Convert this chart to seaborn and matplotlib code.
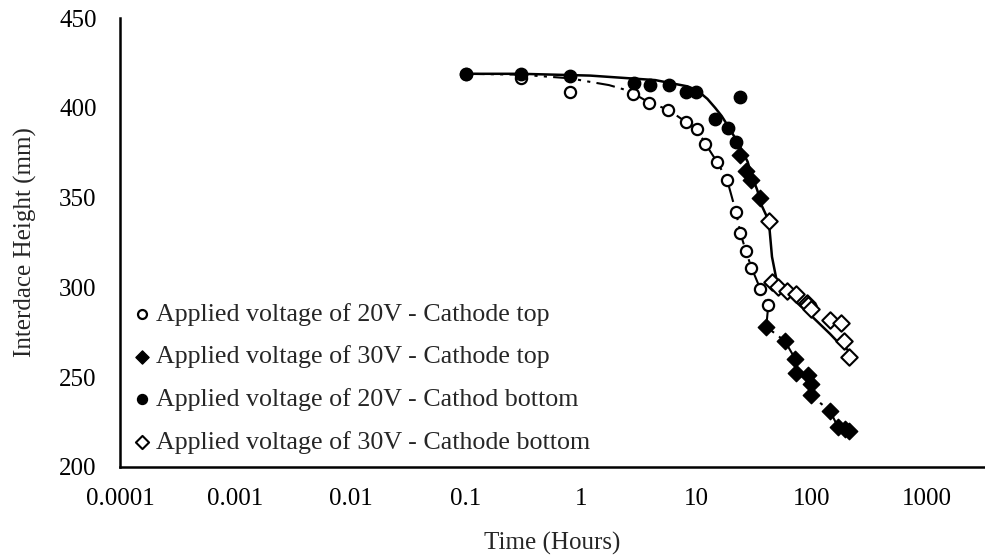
import numpy as np
import pandas as pd
import matplotlib
matplotlib.use("Agg")
import matplotlib.pyplot as plt
from matplotlib.ticker import FixedLocator, LogLocator, NullFormatter, MultipleLocator
import seaborn as sns

# Data (time in hours, height in mm)
t_20v_top = [0.1, 0.3, 0.8, 2.8, 3.9, 5.7, 8.2, 10.2, 12, 15.1, 18.5, 22.1, 24.2, 27, 30.1, 36, 42]
h_20v_top = [419, 416.5, 409, 408, 403, 399, 392, 388, 380, 370, 360, 342, 330, 320, 311, 299, 290]

t_30v_top = [24.2, 27.0, 29.8, 36.0, 40.5, 58.8, 72.3, 73.3, 93.1, 99.6, 98, 145, 170, 196, 210]
h_30v_top = [374, 365, 360, 350, 278, 270, 260, 252, 251, 246, 240, 231, 222, 221, 220]

t_20v_bot = [0.1, 0.3, 0.8, 2.9, 4.0, 5.8, 8.2, 10.0, 14.6, 18.8, 22.2, 24.2]
h_20v_bot = [419, 419, 418, 414, 413, 413, 409, 409, 394, 389, 381, 406]

t_30v_bot = [42.6, 45.4, 51.1, 61.4, 73.3, 91.2, 93, 99.6, 145, 182, 190, 210]
h_30v_bot = [337, 303, 300, 298, 296, 291, 290, 288, 282, 280, 270, 261]

# Curves drawn through the points
t_curve_top = [0.1, 0.3, 0.8, 1.2, 1.75, 2.3, 2.8, 3.9, 5.7, 8.2, 10.2, 12, 15.1, 18.5, 22.1,
               24.2, 27, 30.1, 36, 42, 40.5, 58.8, 72.3, 73.3, 93.1, 99.6, 98, 145, 170, 196, 210]
h_curve_top = [419, 418.5, 416.5, 414.5, 412.7, 410.5, 408.3, 403, 399, 392, 388, 380, 370, 360, 342,
               330, 320, 311, 299, 289, 278, 270, 260, 252, 251, 246, 240, 231, 222, 221, 220]

t_curve_bot = [0.1, 0.3, 1.2, 4.4, 8.4, 10, 11, 12.5, 14.6, 16.6, 18.8, 22.8, 27.9, 30, 33.9, 36.7,
               42.6, 45.4, 49.4, 54, 61, 73, 100, 145, 172, 207]
h_curve_bot = [419, 419, 418, 415.5, 412, 410, 408, 405, 400, 395.5, 390, 381, 370, 363, 354, 346,
               337, 317, 305, 300, 297, 292, 284, 274, 269, 265]

sns.set_style("white")
plt.rcParams["font.family"] = ["Liberation Serif", "DejaVu Serif"]
plt.rcParams["font.size"] = 18

fig = plt.figure(figsize=(9.85, 5.56), dpi=100)
ax = fig.add_axes([0.1218, 0.1606, 0.8782, 0.8067])

# lines
sns.lineplot(x=t_curve_top, y=h_curve_top, sort=False, estimator=None, color="black", lw=1.5,
             linestyle=(0, (9, 3, 1.5, 3, 1.5, 3)), ax=ax)
sns.lineplot(x=t_curve_bot, y=h_curve_bot, sort=False, estimator=None, color="black", lw=1.8, ax=ax)

# points
sns.scatterplot(x=t_20v_top, y=h_20v_top, marker="o", s=65, facecolor="white", edgecolor="black",
                linewidth=1.6, label="Applied voltage of 20V - Cathode top", ax=ax, zorder=3)
sns.scatterplot(x=t_30v_top, y=h_30v_top, marker="D", s=70, color="black", edgecolor="black",
                linewidth=1.0, label="Applied voltage of 30V - Cathode top", ax=ax, zorder=3)
sns.scatterplot(x=t_20v_bot, y=h_20v_bot, marker="o", s=80, color="black", edgecolor="black",
                linewidth=1.0, label="Applied voltage of 20V - Cathod bottom", ax=ax, zorder=3)
sns.scatterplot(x=t_30v_bot, y=h_30v_bot, marker="D", s=70, facecolor="white", edgecolor="black",
                linewidth=1.5, label="Applied voltage of 30V - Cathode bottom", ax=ax, zorder=3)

ax.set_xscale("log")
ax.set_xlim(0.0001, 3200)
ax.set_ylim(200, 450)
ax.xaxis.set_major_locator(FixedLocator([0.0001, 0.001, 0.01, 0.1, 1, 10, 100, 1000]))
ax.set_xticklabels(["0.0001", "0.001", "0.01", "0.1", "1", "10", "100", "1000"])
ax.xaxis.set_minor_locator(LogLocator(base=10, subs=np.arange(2, 10), numticks=20))
ax.xaxis.set_minor_formatter(NullFormatter())
ax.yaxis.set_major_locator(MultipleLocator(50))
ax.yaxis.set_minor_locator(MultipleLocator(10))

ax.tick_params(axis="x", which="major", direction="inout", length=8, width=1.5, color="black", pad=11)
ax.tick_params(axis="x", which="minor", direction="in", length=3.6, width=1.2, color="black")
ax.tick_params(axis="y", which="major", direction="out", length=5.4, width=1.5, color="black", pad=11.5)
ax.tick_params(axis="y", which="minor", direction="in", length=6, width=1.2, color="black")
ax.tick_params(labelsize=18, labelcolor="black")

for side in ["top", "right"]:
    ax.spines[side].set_visible(False)
for side in ["left", "bottom"]:
    ax.spines[side].set_color("black")
    ax.spines[side].set_linewidth(1.8)

ax.set_xlabel("Time (Hours)", fontsize=18, labelpad=16)
ax.set_ylabel("Interdace Height (mm)", fontsize=18, labelpad=16)

ax.legend(loc="upper left", bbox_to_anchor=(0.0165, 0.366), frameon=False, fontsize=18.7,
          markerscale=0.8, handlelength=0.6, handletextpad=0.22, labelspacing=0.75,
          borderpad=0, borderaxespad=0)

fig.savefig("out.png", dpi=100)
